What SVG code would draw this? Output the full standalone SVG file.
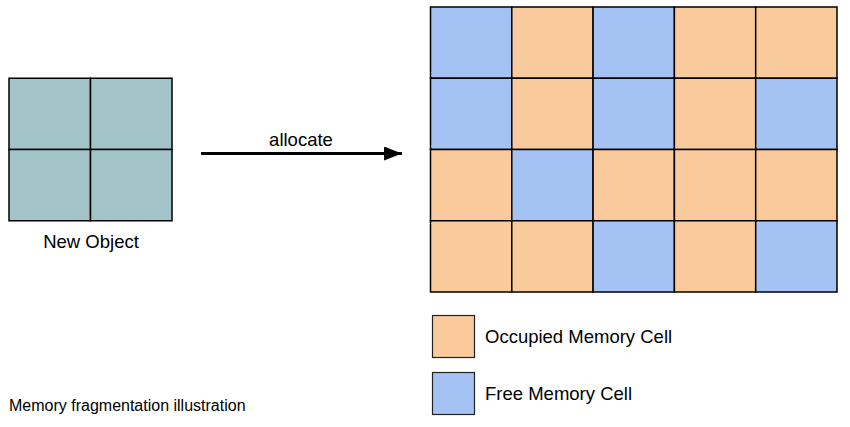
<svg xmlns="http://www.w3.org/2000/svg" width="850" height="427" viewBox="0 0 850 427">
<style>
text{font-family:"Liberation Sans",Arial,sans-serif;fill:#000}
.t18{font-size:18.5px}
.obj{fill:#a2c4c9;stroke:#000;stroke-width:1.5}
.occ{fill:#f9cb9c;stroke:#000;stroke-width:1.5}
.free{fill:#a4c2f4;stroke:#000;stroke-width:1.5}
.leg{stroke:#222;stroke-width:1.2}
</style>
<defs>
<marker id="ah" markerWidth="18" markerHeight="14" refX="18" refY="7" orient="auto" markerUnits="userSpaceOnUse">
<path d="M0,0 L18,7 L0,14 Z" fill="#000"/>
</marker>
</defs>
<rect width="850" height="427" fill="#fff"/>
<g id="new-object">
<rect class="obj" x="9" y="78.25" width="81.5" height="71.25"/>
<rect class="obj" x="90.5" y="78.25" width="81.5" height="71.25"/>
<rect class="obj" x="9" y="149.5" width="81.5" height="71.25"/>
<rect class="obj" x="90.5" y="149.5" width="81.5" height="71.25"/>
<text class="t18" x="91" y="248" text-anchor="middle">New Object</text>
</g>
<g id="connectors">
<line x1="201" y1="153.5" x2="402" y2="153.5" stroke="#000" stroke-width="3" marker-end="url(#ah)"/>
<text class="t18" x="301" y="146" text-anchor="middle">allocate</text>
</g>
<g id="memory-grid">
<rect class="free" x="430.5" y="7" width="81.3" height="71.25"/>
<rect class="occ" x="511.8" y="7" width="81.3" height="71.25"/>
<rect class="free" x="593.1" y="7" width="81.3" height="71.25"/>
<rect class="occ" x="674.4" y="7" width="81.3" height="71.25"/>
<rect class="occ" x="755.7" y="7" width="81.3" height="71.25"/>
<rect class="free" x="430.5" y="78.25" width="81.3" height="71.25"/>
<rect class="occ" x="511.8" y="78.25" width="81.3" height="71.25"/>
<rect class="free" x="593.1" y="78.25" width="81.3" height="71.25"/>
<rect class="occ" x="674.4" y="78.25" width="81.3" height="71.25"/>
<rect class="free" x="755.7" y="78.25" width="81.3" height="71.25"/>
<rect class="occ" x="430.5" y="149.5" width="81.3" height="71.25"/>
<rect class="free" x="511.8" y="149.5" width="81.3" height="71.25"/>
<rect class="occ" x="593.1" y="149.5" width="81.3" height="71.25"/>
<rect class="occ" x="674.4" y="149.5" width="81.3" height="71.25"/>
<rect class="occ" x="755.7" y="149.5" width="81.3" height="71.25"/>
<rect class="occ" x="430.5" y="220.75" width="81.3" height="71.25"/>
<rect class="occ" x="511.8" y="220.75" width="81.3" height="71.25"/>
<rect class="free" x="593.1" y="220.75" width="81.3" height="71.25"/>
<rect class="occ" x="674.4" y="220.75" width="81.3" height="71.25"/>
<rect class="free" x="755.7" y="220.75" width="81.3" height="71.25"/>
</g>
<g id="legend-occupied">
<rect class="occ leg" x="432.5" y="315.5" width="42" height="42"/>
<text class="t18" x="485" y="342.5">Occupied Memory Cell</text>
</g>
<g id="legend-free">
<rect class="free leg" x="432.5" y="372.5" width="42" height="42"/>
<text class="t18" x="485" y="399.5">Free Memory Cell</text>
</g>
<g id="caption">
<text x="9" y="411" font-size="16">Memory fragmentation illustration</text>
</g>
</svg>
